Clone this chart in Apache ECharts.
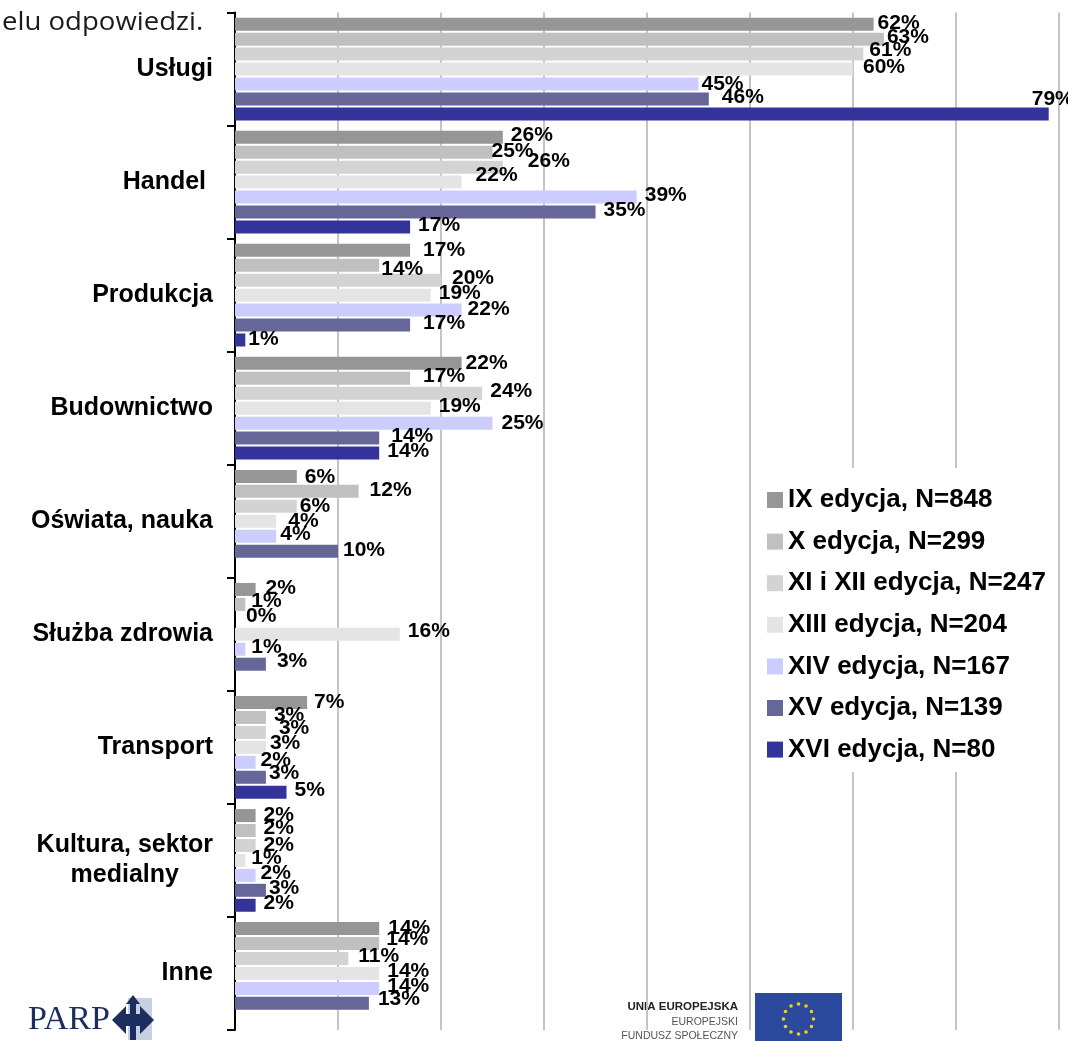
<!DOCTYPE html>
<html>
<head>
<meta charset="utf-8">
<script src="https://cdn.jsdelivr.net/npm/echarts@6/dist/echarts.min.js"></script>
<style>
  html, body { margin: 0; padding: 0; background: #fff; }
  #chart { width: 1068px; height: 1041px; }
</style>
</head>
<body>
<div id="chart"></div>
<script>
// Sectors (top to bottom)
const categories = ['Usługi', 'Handel ', 'Produkcja', 'Budownictwo', 'Oświata, nauka',
  'Służba zdrowia', 'Transport', 'Kultura, sektor\nmedialny', 'Inne'];

// Edition names shown in the legend
const seriesNames = ['IX edycja, N=848', 'X edycja, N=299', 'XI i XII edycja, N=247',
  'XIII edycja, N=204', 'XIV edycja, N=167', 'XV edycja, N=139', 'XVI edycja, N=80'];

// Share of answers per sector, in percent (null = no answer in that edition)
const editionIX   = [62, 26, 17, 22, 6, 2, 7, 2, 14];
const editionX    = [63, 25, 14, 17, 12, 1, 3, 2, 14];
const editionXIXII = [61, 26, 20, 24, 6, 0, 3, 2, 11];
const editionXIII = [60, 22, 19, 19, 4, 16, 3, 1, 14];
const editionXIV  = [45, 39, 22, 25, 4, 1, 2, 2, 14];
const editionXV   = [46, 35, 17, 14, 10, 3, 3, 3, 13];
const editionXVI  = [79, 17, 1, 14, null, null, 5, 2, null];

const seriesValues = [editionIX, editionX, editionXIXII, editionXIII, editionXIV, editionXV, editionXVI];
const colors = ['#969696', '#c0c0c0', '#d3d3d3', '#e4e4e4', '#ccccff', '#666699', '#333399'];

// Small label shifts ("series,category": [dx, dy]) so crowded labels do not sit on each other
const labelNudge = {
  '0,0': [-4, -1], '1,0': [-5, -2], '2,0': [-2, -4], '3,0': [2, -2], '4,0': [-5, 0], '5,0': [5, -2], '6,0': [-25, -15],
  '1,1': [-9, -1], '2,1': [17, -6], '3,1': [6, -7],
  '0,2': [5, 0], '1,2': [-6, 4], '2,2': [3, -2], '4,2': [-2, -1], '5,2': [5, -2], '6,2': [-5, -1],
  '0,3': [-4, 0], '1,3': [5, -2], '4,3': [1, 0], '5,3': [4, -2],
  '0,4': [0, 1], '1,4': [3, -1], '2,4': [-5, 0], '3,4': [4, 0], '4,4': [-4, -2], '5,4': [-3, -1],
  '0,5': [2, -1], '1,5': [-2, -3], '2,5': [3, -3], '3,5': [0, -3], '4,5': [-2, -2], '5,5': [3, -3],
  '0,6': [-1, 0], '2,6': [5, -4], '3,6': [-4, -4], '4,6': [-3, -2], '5,6': [-5, -4],
  '0,7': [0, 0], '2,7': [0, 0], '3,7': [-2, -2], '4,7': [-3, -2], '5,7': [-5, -2],
  '0,8': [1, 0], '1,8': [-1, -4], '2,8': [2, -2], '5,8': [1, -4]
};

const ARIAL = 'Arial, "Liberation Sans", sans-serif';

const series = seriesValues.map(function (vals, si) {
  return {
    name: seriesNames[si],
    type: 'bar',
    barWidth: 13,
    barGap: '15%',
    itemStyle: { color: colors[si] },
    label: {
      show: true,
      position: 'right',
      distance: 8,
      formatter: '{c}%',
      color: '#000',
      fontFamily: ARIAL,
      fontWeight: 'bold',
      fontSize: 21
    },
    data: vals.map(function (v, ci) {
      if (v === null) return '-';
      const off = labelNudge[si + ',' + ci] || [0, -2];
      return { value: v, label: { offset: off } };
    })
  };
});

// Twelve stars of the EU flag
const flagCx = 798.5, flagCy = 1019, starR = 15;
const stars = [];
for (let k = 0; k < 12; k++) {
  const a = k * Math.PI / 6;
  stars.push({
    type: 'circle',
    shape: { cx: flagCx + starR * Math.sin(a), cy: flagCy - starR * Math.cos(a), r: 1.8 },
    style: { fill: '#f2d21a' }
  });
}

const chart = echarts.init(document.getElementById('chart'), null, { renderer: 'canvas' });
chart.setOption({
  backgroundColor: '#fff',
  animation: false,
  color: colors,
  grid: { left: 235, top: 12.5, width: 824, height: 1017.5, containLabel: false },
  xAxis: {
    type: 'value',
    min: 0, max: 80, interval: 10,
    axisLine: { show: false },
    axisTick: { show: false },
    axisLabel: { show: false },
    splitLine: { show: true, lineStyle: { color: '#c4c4c4', width: 2 } }
  },
  yAxis: {
    type: 'category',
    data: categories,
    inverse: true,
    axisLine: { show: true, lineStyle: { color: '#000', width: 2 } },
    axisTick: { show: true, length: 8, lineStyle: { color: '#000', width: 2 } },
    axisLabel: {
      margin: 22,
      formatter: function (v) {
        return v.split('\n').map(function (s) { return '{c|' + s + '}'; }).join('\n');
      },
      rich: {
        c: { align: 'center', fontFamily: ARIAL, fontWeight: 'bold', fontSize: 25, lineHeight: 30, color: '#000' }
      }
    }
  },
  legend: {
    orient: 'vertical',
    left: 762,
    top: 482,
    itemWidth: 16,
    itemHeight: 16,
    itemGap: 15.6,
    icon: 'rect',
    textStyle: { fontFamily: ARIAL, fontWeight: 'bold', fontSize: 26, lineHeight: 26, color: '#000' },
    data: seriesNames
  },
  graphic: [
    // white box behind the legend
    { type: 'rect', z: 1, shape: { x: 753, y: 468, width: 305, height: 304 }, style: { fill: '#fff' } },
    // fragment of the question text above the chart
    {
      type: 'text', z: 5, x: 2, y: 23, scaleX: 1.06,
      style: { text: 'elu odpowiedzi.', font: '26px "Open Sans", sans-serif', fill: '#1a1a1a', verticalAlign: 'middle' }
    },
    // PARP logo
    {
      type: 'group', z: 5,
      children: [
        { type: 'rect', shape: { x: 128, y: 998, width: 24, height: 42 }, style: { fill: '#c9cfe2' } },
        {
          type: 'text', x: 28, y: 1020,
          style: { text: 'PARP', font: '34px "Liberation Serif", "DejaVu Serif", serif', fill: '#1c2d5e', verticalAlign: 'middle' }
        },
        {
          type: 'polygon',
          shape: { points: [[112, 1020], [126, 1006], [126, 1014], [140, 1014], [140, 1006], [154, 1020], [140, 1034], [140, 1026], [126, 1026], [126, 1034]] },
          style: { fill: '#1c2d5e' }
        },
        {
          type: 'polygon',
          shape: { points: [[133, 995], [140, 1004], [136, 1004], [136, 1040], [130, 1040], [130, 1004], [126, 1004]] },
          style: { fill: '#1c2d5e' }
        }
      ]
    },
    // EU logo
    {
      type: 'group', z: 5,
      children: [
        { type: 'rect', shape: { x: 608, y: 990, width: 142, height: 51 }, style: { fill: '#fff' } },
        {
          type: 'text', x: 738, y: 1007,
          style: { text: 'UNIA EUROPEJSKA', font: 'bold 11.5px ' + ARIAL, fill: '#222', align: 'right', verticalAlign: 'middle' }
        },
        {
          type: 'text', x: 738, y: 1022,
          style: { text: 'EUROPEJSKI', font: '10.5px ' + ARIAL, fill: '#555', align: 'right', verticalAlign: 'middle' }
        },
        {
          type: 'text', x: 738, y: 1036,
          style: { text: 'FUNDUSZ SPOŁECZNY', font: '10.5px ' + ARIAL, fill: '#555', align: 'right', verticalAlign: 'middle' }
        },
        { type: 'rect', shape: { x: 755, y: 993, width: 87, height: 50 }, style: { fill: '#2b4a9e' } }
      ].concat(stars)
    }
  ],
  series: series
});
</script>
</body>
</html>
